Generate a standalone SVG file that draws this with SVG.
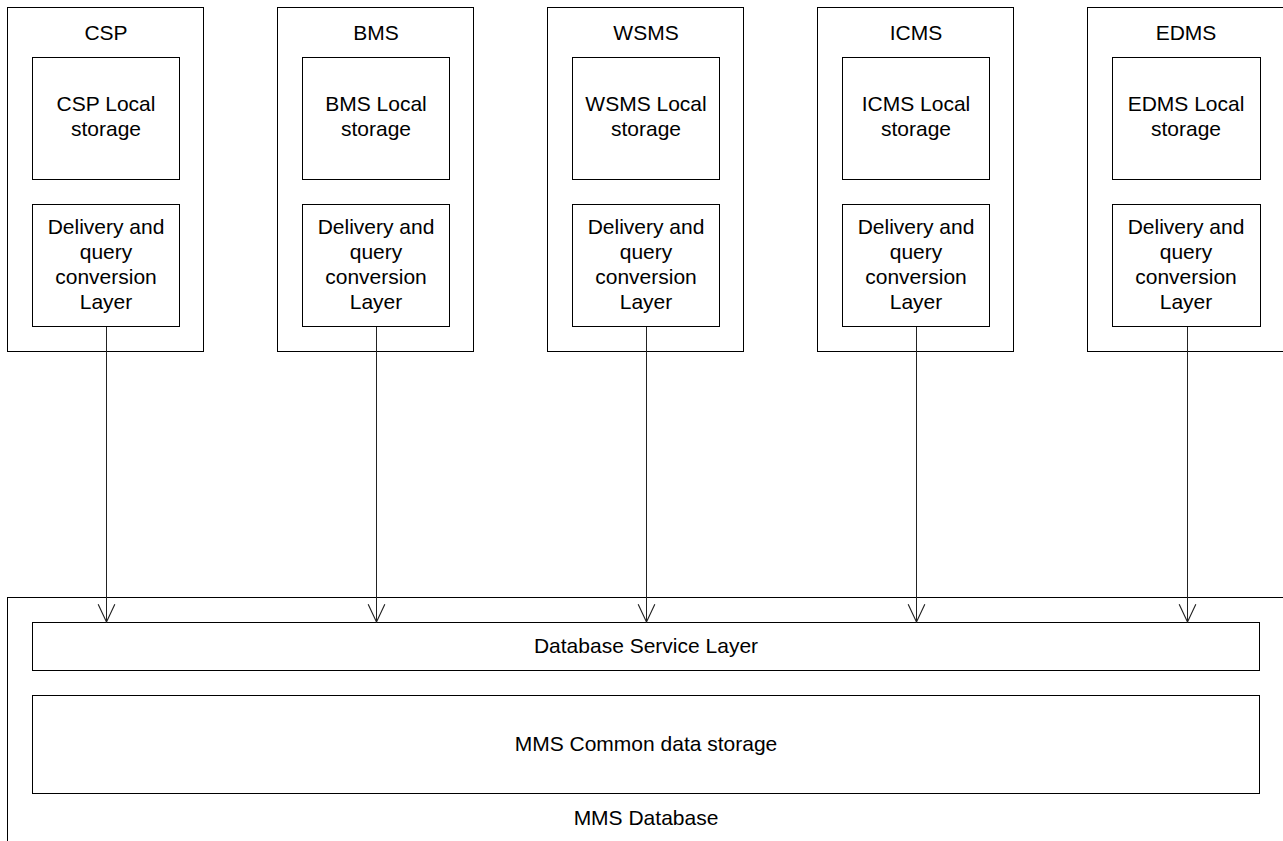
<svg xmlns="http://www.w3.org/2000/svg" width="1283" height="841" viewBox="0 0 1283 841">
<style>
rect{fill:#fff;stroke:#000;stroke-width:1}
text{font-family:"Liberation Sans",Arial,sans-serif;font-size:21px;fill:#000;text-anchor:middle}
.c{stroke:#222;stroke-width:1;fill:none}
</style>
<defs>
<marker id="v" markerUnits="userSpaceOnUse" markerWidth="20" markerHeight="20" refX="17" refY="8" orient="auto" viewBox="0 0 18 16">
<path d="M1,0.5 L17,8 L1,15.5" fill="none" stroke="#222" stroke-width="1"/>
</marker>
</defs>
<rect x="0" y="0" width="1283" height="841" style="stroke:none"/>
<g id="mms-database">
<rect x="7.5" y="597.5" width="1290" height="260"/>
<text x="646" y="825">MMS Database</text>
</g>
<g id="db-service-layer">
<rect x="32.5" y="622.5" width="1227" height="48"/>
<text x="646" y="653">Database Service Layer</text>
</g>
<g id="common-storage">
<rect x="32.5" y="695.5" width="1227" height="98"/>
<text x="646" y="751">MMS Common data storage</text>
</g>
<g id="csp">
<rect x="7.5" y="7.5" width="196" height="344"/>
<text x="106" y="40">CSP</text>
<rect x="32.5" y="57.5" width="147" height="122"/>
<text x="106" y="111">CSP Local</text><text x="106" y="136">storage</text>
<rect x="32.5" y="204.5" width="147" height="122"/>
<text x="106" y="234">Delivery and</text><text x="106" y="259">query</text><text x="106" y="284">conversion</text><text x="106" y="309">Layer</text>
</g>
<g id="bms">
<rect x="277.5" y="7.5" width="196" height="344"/>
<text x="376" y="40">BMS</text>
<rect x="302.5" y="57.5" width="147" height="122"/>
<text x="376" y="111">BMS Local</text><text x="376" y="136">storage</text>
<rect x="302.5" y="204.5" width="147" height="122"/>
<text x="376" y="234">Delivery and</text><text x="376" y="259">query</text><text x="376" y="284">conversion</text><text x="376" y="309">Layer</text>
</g>
<g id="wsms">
<rect x="547.5" y="7.5" width="196" height="344"/>
<text x="646" y="40">WSMS</text>
<rect x="572.5" y="57.5" width="147" height="122"/>
<text x="646" y="111">WSMS Local</text><text x="646" y="136">storage</text>
<rect x="572.5" y="204.5" width="147" height="122"/>
<text x="646" y="234">Delivery and</text><text x="646" y="259">query</text><text x="646" y="284">conversion</text><text x="646" y="309">Layer</text>
</g>
<g id="icms">
<rect x="817.5" y="7.5" width="196" height="344"/>
<text x="916" y="40">ICMS</text>
<rect x="842.5" y="57.5" width="147" height="122"/>
<text x="916" y="111">ICMS Local</text><text x="916" y="136">storage</text>
<rect x="842.5" y="204.5" width="147" height="122"/>
<text x="916" y="234">Delivery and</text><text x="916" y="259">query</text><text x="916" y="284">conversion</text><text x="916" y="309">Layer</text>
</g>
<g id="edms">
<rect x="1087.5" y="7.5" width="220" height="344"/>
<text x="1186" y="40">EDMS</text>
<rect x="1112.5" y="57.5" width="148" height="122"/>
<text x="1186" y="111">EDMS Local</text><text x="1186" y="136">storage</text>
<rect x="1112.5" y="204.5" width="148" height="122"/>
<text x="1186" y="234">Delivery and</text><text x="1186" y="259">query</text><text x="1186" y="284">conversion</text><text x="1186" y="309">Layer</text>
</g>
<g id="connectors">
<line class="c" x1="106.5" y1="327" x2="106.5" y2="622" marker-end="url(#v)"/>
<line class="c" x1="376.5" y1="327" x2="376.5" y2="622" marker-end="url(#v)"/>
<line class="c" x1="646.5" y1="327" x2="646.5" y2="622" marker-end="url(#v)"/>
<line class="c" x1="916.5" y1="327" x2="916.5" y2="622" marker-end="url(#v)"/>
<line class="c" x1="1187.5" y1="327" x2="1187.5" y2="622" marker-end="url(#v)"/>
</g>
</svg>
